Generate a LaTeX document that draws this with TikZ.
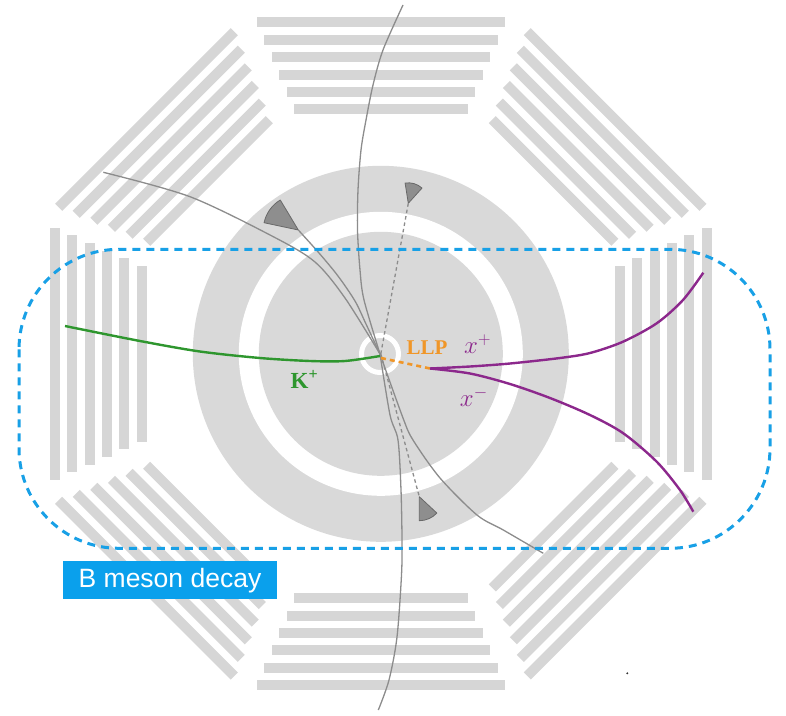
\documentclass[tikz,border=0pt]{standalone}
\usepackage{fontspec}
\setmainfont{Liberation Serif}
\newfontfamily\labelsans{Liberation Sans}
\definecolor{chamber}{RGB}{214,214,214}
\definecolor{calo}{RGB}{217,217,217}
\definecolor{trackgray}{RGB}{140,140,140}
\definecolor{hitfill}{RGB}{142,142,142}
\definecolor{hitline}{RGB}{105,105,105}
\definecolor{kaongreen}{RGB}{46,150,46}
\definecolor{llporange}{RGB}{240,150,40}
\definecolor{chipurple}{RGB}{140,40,140}
\definecolor{decayblue}{RGB}{24,160,230}
\definecolor{tagblue}{RGB}{10,160,236}
\begin{document}
\begin{tikzpicture}[x=1pt,y=-1pt,
  bar/.style={fill=chamber},
  trk/.style={draw=trackgray,line width=1.3pt},
  neutral/.style={draw=trackgray,line width=1.3pt,dash pattern=on 3.5pt off 3pt},
  hitwedge/.style={fill=hitfill,draw=hitline,line width=0.8pt,line join=round},
  kaon/.style={draw=kaongreen,line width=2.4pt},
  llp/.style={draw=llporange,line width=2.6pt,dash pattern=on 5pt off 4pt},
  chi/.style={draw=chipurple,line width=2.4pt},
  decaybox/.style={draw=decayblue,line width=3pt,dash pattern=on 8pt off 6pt,rounded corners=100pt},
  tag/.style={fill=tagblue,text=white,inner sep=0pt,minimum width=213.4pt,minimum height=38.3pt,
              font=\labelsans\fontsize{26.5}{30}\selectfont},
  lab/.style={inner sep=0pt,anchor=base west}]
\useasboundingbox (0,0) rectangle (786,715);

% muon chambers: six layers on each face of the octagon
\begin{scope}[shift={(380.8,353.8)}]
  \foreach \r in {0,45,135,180,225,315}{
    \begin{scope}[rotate=\r]
      \foreach \k in {0,...,5}
        \fill[bar] ({-86.7-7.5*\k},{-239.4-17.4*\k}) rectangle ({86.7+7.5*\k},{-249.4-17.4*\k});
    \end{scope}
  }
  \foreach \r in {90,270}{
    \begin{scope}[rotate=\r]
      \foreach \k in {0,...,5}
        \fill[bar] ({-88-7.6*\k},{-234.3-17.3*\k}) rectangle ({88+7.6*\k},{-244.3-17.3*\k});
    \end{scope}
  }
\end{scope}

% calorimeter and tracker
\coordinate (ip) at (380.8,353.8);
\fill[calo] (ip) circle[radius=188pt];
\fill[white] (ip) circle[radius=142pt];
\fill[calo] (ip) circle[radius=122pt];
\draw[white,line width=5pt] (380,354) circle[radius=18.5pt];

% calorimeter hits
\begin{scope}[shift={(298.3,230)},x=1pt,y=1pt]
  \draw[hitwedge] (0,0) -- (121:35) arc[start angle=121,end angle=168,radius=35] -- cycle;
\end{scope}
\begin{scope}[shift={(408.3,203.3)},x=1pt,y=1pt]
  \draw[hitwedge] (0,0) -- (48:20.5) arc[start angle=48,end angle=99,radius=20.5] -- cycle;
\end{scope}
\begin{scope}[shift={(419.3,496.7)},x=1pt,y=1pt]
  \draw[hitwedge] (0,0) -- (-90:24) arc[start angle=-90,end angle=-43,radius=24] -- cycle;
\end{scope}
\coordinate (hitL) at (298.3,230);
\coordinate (hitT) at (408.3,203.3);
\coordinate (hitB) at (419.3,496.7);

% charged tracks
\draw[trk] plot[smooth] coordinates {(380,354) (364,300) (360,270) (357.5,230) (358,190) (361,150) (366,120) (373,85) (383,50) (403,5)};
\draw[trk] plot[smooth] coordinates {(380,354) (390,415) (398,440) (401,490) (402,540) (401.5,575) (397,637) (389,680) (378.3,710)};
\draw[trk] plot[smooth] coordinates {(380,354) (345,298) (315,262) (273.3,236.7) (190,196.7) (103.3,172.3)};
\draw[trk] plot[smooth] coordinates {(380,354) (366,324) (355,301) (338,276) (319,253) (hitL)};
\draw[trk] plot[smooth] coordinates {(380,354) (403,418) (413,440) (440,478) (477,515) (503.3,530) (543.3,553.3)};

% neutral lines to the hits
\draw[neutral] (ip) -- (hitT);
\draw[neutral] (ip) -- (hitB);

% kaon, long-lived particle and its decay products
\draw[kaon] plot[smooth] coordinates {(65,326) (140,341) (200,351.5) (260,358) (310,361) (345,361) (380,356)};
\coordinate (llpv) at (430,368.5);
\draw[llp] (381,358) -- (llpv);
\draw[chi] plot[smooth] coordinates {(llpv) (470,366.5) (510,363.5) (560,358) (590,353) (623,341.7) (656.7,323.3) (683,300) (703.3,272.7)};
\draw[chi] plot[smooth] coordinates {(llpv) (470,373.5) (510,384) (550,398) (590,415) (623.3,433.3) (656.7,461.7) (680,490) (693.3,511.7)};

% region of the B meson decay
\draw[decaybox] (19,249.3) rectangle (770,548.3);
\node[tag] (tagnode) at (170,580.2) {B meson decay};

% particle labels
\node[lab,text=kaongreen,font=\bfseries\fontsize{23}{26}\selectfont] (klab) at (290.5,388.3) {K\textsuperscript{+}};
\node[lab,text=llporange,font=\bfseries\fontsize{21}{24}\selectfont] (llplab) at (406.5,354) {LLP};
\node[lab,text=chipurple,font=\fontsize{23}{26}\selectfont] (xplab) at (464,353.3) {$x^{+}$};
\node[lab,text=chipurple,font=\fontsize{23}{26}\selectfont] (xmlab) at (459.7,406.7) {$x^{-}$};

\fill[black!80] (627.3,673.3) circle[radius=1.1pt];
\end{tikzpicture}
\end{document}
